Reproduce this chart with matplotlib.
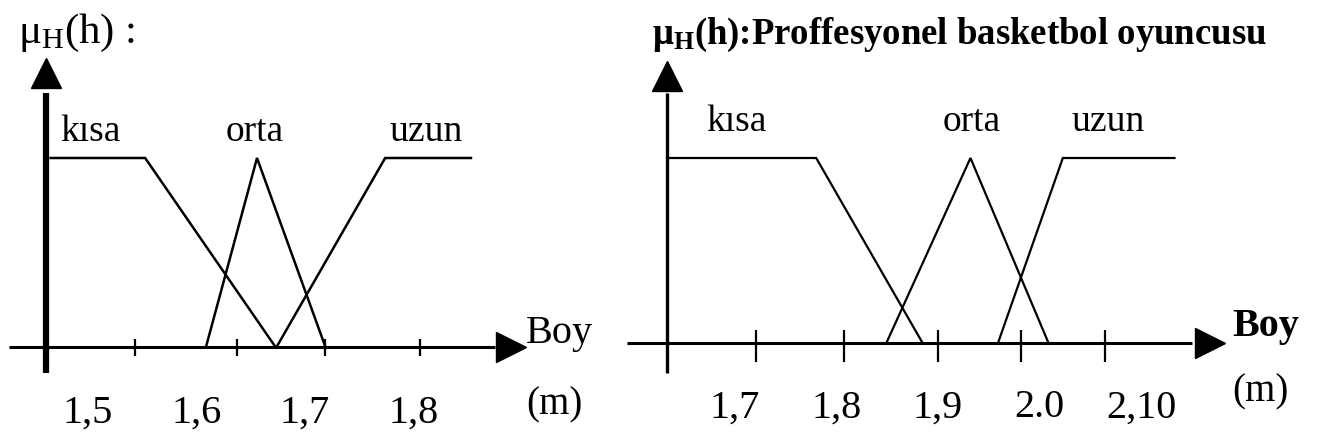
import matplotlib
matplotlib.use("Agg")
import matplotlib.pyplot as plt

plt.rcParams["font.family"] = ["Liberation Serif", "DejaVu Serif"]
plt.rcParams["mathtext.fontset"] = "custom"
plt.rcParams["mathtext.rm"] = "Liberation Serif"
plt.rcParams["mathtext.it"] = "Liberation Serif:italic"
plt.rcParams["mathtext.bf"] = "Liberation Serif:bold"

# ---- membership functions: general population (height in metres) ----
left_kisa_x = [1.466, 1.553, 1.673]
left_kisa_y = [1, 1, 0]
left_orta_x = [1.609, 1.656, 1.719]
left_orta_y = [0, 1, 0]
left_uzun_x = [1.674, 1.774, 1.853]
left_uzun_y = [0, 1, 1]
left_tick_values = [1.5, 1.6, 1.7, 1.8]
left_tick_labels = ["1,5", "1,6", "1,7", "1,8"]
left_tick_marks = [1.544, 1.638, 1.719, 1.806]

# ---- membership functions: professional basketball players ----
right_kisa_x = [1.635, 1.780, 1.885]
right_kisa_y = [1, 1, 0]
right_orta_x = [1.849, 1.932, 2.009]
right_orta_y = [0, 1, 0]
right_uzun_x = [1.959, 2.023, 2.133]
right_uzun_y = [0, 1, 1]
right_tick_values = [1.7, 1.8, 1.9, 2.0, 2.1]
right_tick_labels = ["1,7", "1,8", "1,9", "2.0", "2,10"]
right_tick_marks = [1.7205, 1.8069, 1.9003, 1.9815, 2.0648]

set_names = ["kısa", "orta", "uzun"]

W, H = 1318, 445
fig = plt.figure(figsize=(W / 100, H / 100), dpi=100)
fig.patch.set_facecolor("white")


def panel(rect, xlim, ylim, curves, label_pos, label_mu,
          yaxis_x, yaxis_span, yarrow_mu, xaxis_span, xarrow_x,
          tick_marks, tick_len, tick_values, tick_labels, tick_mu,
          boy_x, boy_mu, m_mu, title, title_x, title_mu, title_size,
          title_weight, ylw, xlw, clw, boy_weight):
    ax = fig.add_axes(rect)
    ax.set_xlim(*xlim)
    ax.set_ylim(*ylim)
    ax.axis("off")
    # axes drawn as part of the diagram
    ax.plot([yaxis_x, yaxis_x], yaxis_span, color="black", lw=ylw,
            solid_capstyle="butt")
    ax.plot(xaxis_span, [0, 0], color="black", lw=xlw, solid_capstyle="butt")
    ax.plot([yaxis_x], [yarrow_mu], marker="^", ms=21, color="black",
            clip_on=False)
    ax.plot([xarrow_x], [0], marker=">", ms=21, color="black", clip_on=False)
    for t in tick_marks:
        ax.plot([t, t], tick_len, color="black", lw=1.6, solid_capstyle="butt")
    for xs, ys in curves:
        ax.plot(xs, ys, color="black", lw=clw, solid_joinstyle="miter")
    for name, lx in zip(set_names, label_pos):
        ax.text(lx, label_mu, name, ha="center", va="center", fontsize=27)
    for v, lab in zip(tick_values, tick_labels):
        ax.text(v, tick_mu, lab, ha="center", va="center", fontsize=29)
    ax.text(boy_x, boy_mu, "Boy", ha="left", va="center", fontsize=29,
            fontweight=boy_weight)
    ax.text(boy_x, m_mu, "(m)", ha="left", va="center", fontsize=28)
    ax.text(title_x, title_mu, title, ha="left", va="center",
            fontsize=title_size, fontweight=title_weight, clip_on=False)
    return ax


# left panel: x in metres mapped so that 1086 px = 1 m
lx0 = 1.65 - 250.5 / 1086
lx1 = 1.65 + (620 - 250.5) / 1086
ly0 = (347 - 445) / 189
ly1 = 347 / 189
panel([0, 0, 620 / W, 1], (lx0, lx1), (ly0, ly1),
      [(left_kisa_x, left_kisa_y), (left_orta_x, left_orta_y),
       (left_uzun_x, left_uzun_y)],
      [1.503, 1.654, 1.812], 1.1376,
      1.462, [-0.138, 1.344], 1.45, [1.4276, 1.875], 1.8899,
      left_tick_marks, [-0.045, 0.04], left_tick_values, left_tick_labels,
      -0.35, 1.904, 0.074, -0.307,
      "$\\mathrm{μ}_{\\mathrm{H}}\\mathrm{(h)}$ :", 1.436, 1.66, 31,
      "normal", 4.5, 2.2, 1.8, "normal")

# right panel: x in metres mapped so that 1015 px = 1 m
rx0 = 1.9 - 318 / 1015
rx1 = 1.9 + (1318 - 938) / 1015
ry0 = (343.3 - 445) / 185.3
ry1 = 343.3 / 185.3
panel([620 / W, 0, 1 - 620 / W, 1], (rx0, rx1), (ry0, ry1),
      [(right_kisa_x, right_kisa_y), (right_orta_x, right_orta_y),
       (right_uzun_x, right_uzun_y)],
      [1.7015, 1.933, 2.068], 1.194,
      1.6327, [-0.16, 1.351], 1.44, [1.5933, 2.150], 2.168,
      right_tick_marks, [-0.1, 0.07], right_tick_values, right_tick_labels,
      -0.349, 2.19, 0.088, -0.264,
      "$\\mathbf{μ}_{\\mathbf{H}}\\mathbf{(h)}$:Proffesyonel basketbol oyuncusu",
      1.6186, 1.665, 26.5, "bold",
      2.4, 2.2, 1.6, "bold")

fig.savefig("out.png", dpi=100, facecolor="white")
